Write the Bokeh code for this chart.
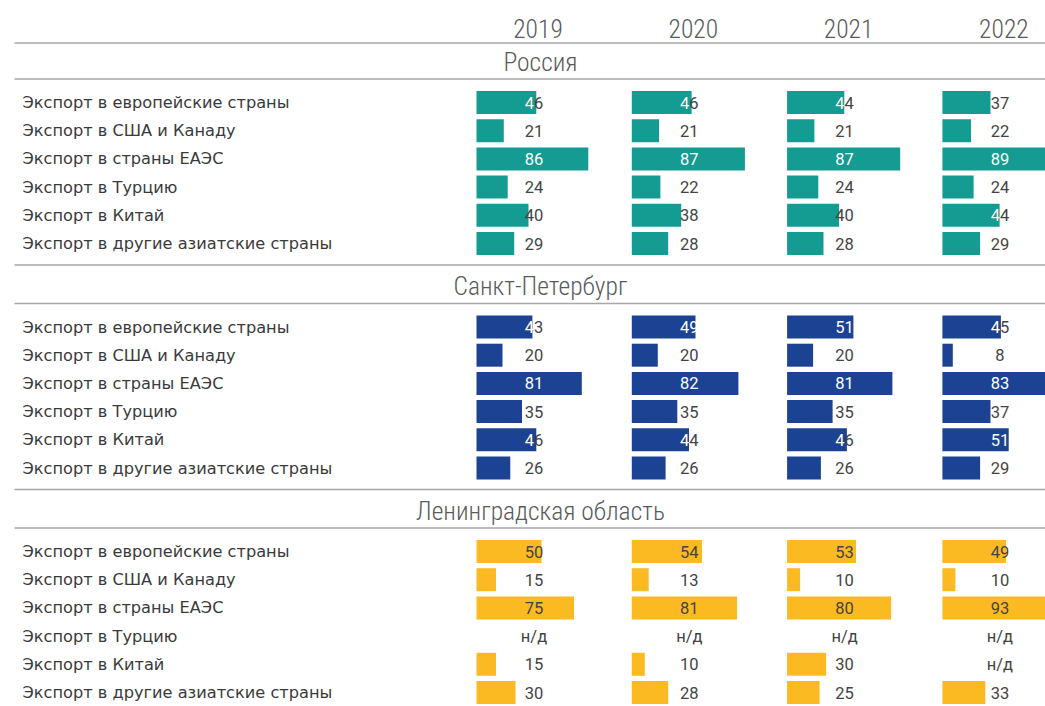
from bokeh.plotting import figure
from bokeh.models import Range1d, ColumnDataSource
from bokeh.core.properties import value
from bokeh.embed import file_html
from bokeh.resources import INLINE

# ---------------- data ----------------
categories = [
    "Экспорт в европейские страны",
    "Экспорт в США и Канаду",
    "Экспорт в страны ЕАЭС",
    "Экспорт в Турцию",
    "Экспорт в Китай",
    "Экспорт в другие азиатские страны",
]
years = ["2019", "2020", "2021", "2022"]
regions = ["Россия", "Санкт-Петербург", "Ленинградская область"]

russia_2019 = [46, 21, 86, 24, 40, 29]
russia_2020 = [46, 21, 87, 22, 38, 28]
russia_2021 = [44, 21, 87, 24, 40, 28]
russia_2022 = [37, 22, 89, 24, 44, 29]

spb_2019 = [43, 20, 81, 35, 46, 26]
spb_2020 = [49, 20, 82, 35, 44, 26]
spb_2021 = [51, 20, 81, 35, 46, 26]
spb_2022 = [45, 8, 83, 37, 51, 29]

lo_2019 = [50, 15, 75, None, 15, 30]
lo_2020 = [54, 13, 81, None, 10, 28]
lo_2021 = [53, 10, 80, None, 30, 25]
lo_2022 = [49, 10, 93, None, None, 33]

no_data = "н/д"
region_values = [
    [russia_2019, russia_2020, russia_2021, russia_2022],
    [spb_2019, spb_2020, spb_2021, spb_2022],
    [lo_2019, lo_2020, lo_2021, lo_2022],
]
region_colors = ["#149B92", "#1C4393", "#FBBA22"]

# ---------------- layout (styles / positions) ----------------
W, H = 1045, 706
PX_PER_UNIT = 1.3
ORIGIN_PX = 476                      # left edge of first column of bars
COL_GAP = 155.3 / PX_PER_UNIT        # column spacing in value units
TEXT_OFF = 57.5 / PX_PER_UNIT        # value-label centre offset (units)
YEAR_OFF = 61.5 / PX_PER_UNIT
VALUE_SIZE = 16.5
DIGIT_W = 0.5605 * VALUE_SIZE / PX_PER_UNIT   # digit advance in units
ROW0 = 102.0
SECTION_STEP = 224.5
ROW_STEP = 28.2
BAR_H = 23

def px_to_x(px):
    return (px - ORIGIN_PX) / PX_PER_UNIT

p = figure(width=W, height=H, output_backend="svg", toolbar_location=None,
           x_range=Range1d(px_to_x(0), px_to_x(W)), y_range=Range1d(H, 0),
           min_border=0, min_border_left=0, min_border_right=0,
           min_border_top=0, min_border_bottom=0)
p.axis.visible = False
p.grid.visible = False
p.outline_line_color = None
p.background_fill_color = "white"
p.border_fill_color = "white"

LINE_COLOR = "#a6a6a6"
GREY = "#444444"
TITLE_GREY = "#5a5a5a"
LABEL_FONT = value("DejaVu Sans")
VALUE_FONT = value("Roboto")
NARROW_FONT = value("'Roboto Condensed Light', 'Roboto Condensed'")

# header years
year_x = [i * COL_GAP + YEAR_OFF for i in range(len(years))]
p.text(x=year_x, y=[28] * len(years), text=years, text_align="center",
       text_baseline="middle", text_font=NARROW_FONT, text_font_size="25.5px",
       text_color=TITLE_GREY)

# horizontal rules
x_left, x_right = px_to_x(14), px_to_x(W)
rule_y = [42.5]
for s in range(len(regions)):
    top = ROW0 + s * SECTION_STEP
    rule_y.append(top - 23.5)
    if s < len(regions) - 1:
        rule_y.append(top + 5 * ROW_STEP + 21.5)
p.segment(x0=[x_left] * len(rule_y), x1=[x_right] * len(rule_y),
          y0=rule_y, y1=rule_y, line_color=LINE_COLOR, line_width=1.5)

for s, region in enumerate(regions):
    top = ROW0 + s * SECTION_STEP
    # section title
    p.text(x=[px_to_x(540)], y=[top - 41], text=[region], text_align="center",
           text_baseline="middle", text_font=NARROW_FONT, text_font_size="25.5px",
           text_color=TITLE_GREY)
    row_y = [top + r * ROW_STEP for r in range(len(categories))]
    # category labels
    p.text(x=[px_to_x(22)] * len(categories), y=row_y, text=categories,
           text_align="left", text_baseline="middle", text_font=LABEL_FONT,
           text_font_size="16.2px", text_color="#3a3a3a")
    lefts, rights, ys = [], [], []
    tx, ty, tt, tc = [], [], [], []
    ox, oy, ot = [], [], []          # white overlay for the part sitting on the bar
    for c, vals in enumerate(region_values[s]):
        base = c * COL_GAP
        cx = base + TEXT_OFF
        for r, v in enumerate(vals):
            tx.append(cx)
            ty.append(row_y[r])
            if v is None:
                tt.append(no_data)
                tc.append(GREY)
                continue
            lefts.append(base)
            rights.append(base + v)
            ys.append(row_y[r])
            label = str(v)
            tt.append(label)
            bar_end = base + v
            if s < 2 and len(label) == 2:
                first_c = cx - DIGIT_W / 2
                last_c = cx + DIGIT_W / 2
                if bar_end >= last_c:
                    tc.append("white")
                elif bar_end >= first_c:
                    tc.append(GREY)
                    ox.append(cx)
                    oy.append(row_y[r])
                    ot.append(label[0])
                else:
                    tc.append(GREY)
            else:
                tc.append(GREY)
    src = ColumnDataSource(dict(left=lefts, right=rights, y=ys))
    p.hbar(y="y", left="left", right="right", height=BAR_H, source=src,
           fill_color=region_colors[s], line_color=None)
    tsrc = ColumnDataSource(dict(x=tx, y=ty, t=tt, c=tc))
    p.text(x="x", y="y", text="t", text_color="c", source=tsrc,
           text_align="center", text_baseline="middle", text_font=VALUE_FONT,
           text_font_size=f"{VALUE_SIZE}px")
    if ox:
        osrc = ColumnDataSource(dict(x=ox, y=oy, t=ot))
        p.text(x="x", y="y", text="t", text_color="white", source=osrc,
               text_align="right", text_baseline="middle", text_font=VALUE_FONT,
               text_font_size=f"{VALUE_SIZE}px")

with open("out.html", "w") as f:
    f.write(file_html(p, INLINE))
